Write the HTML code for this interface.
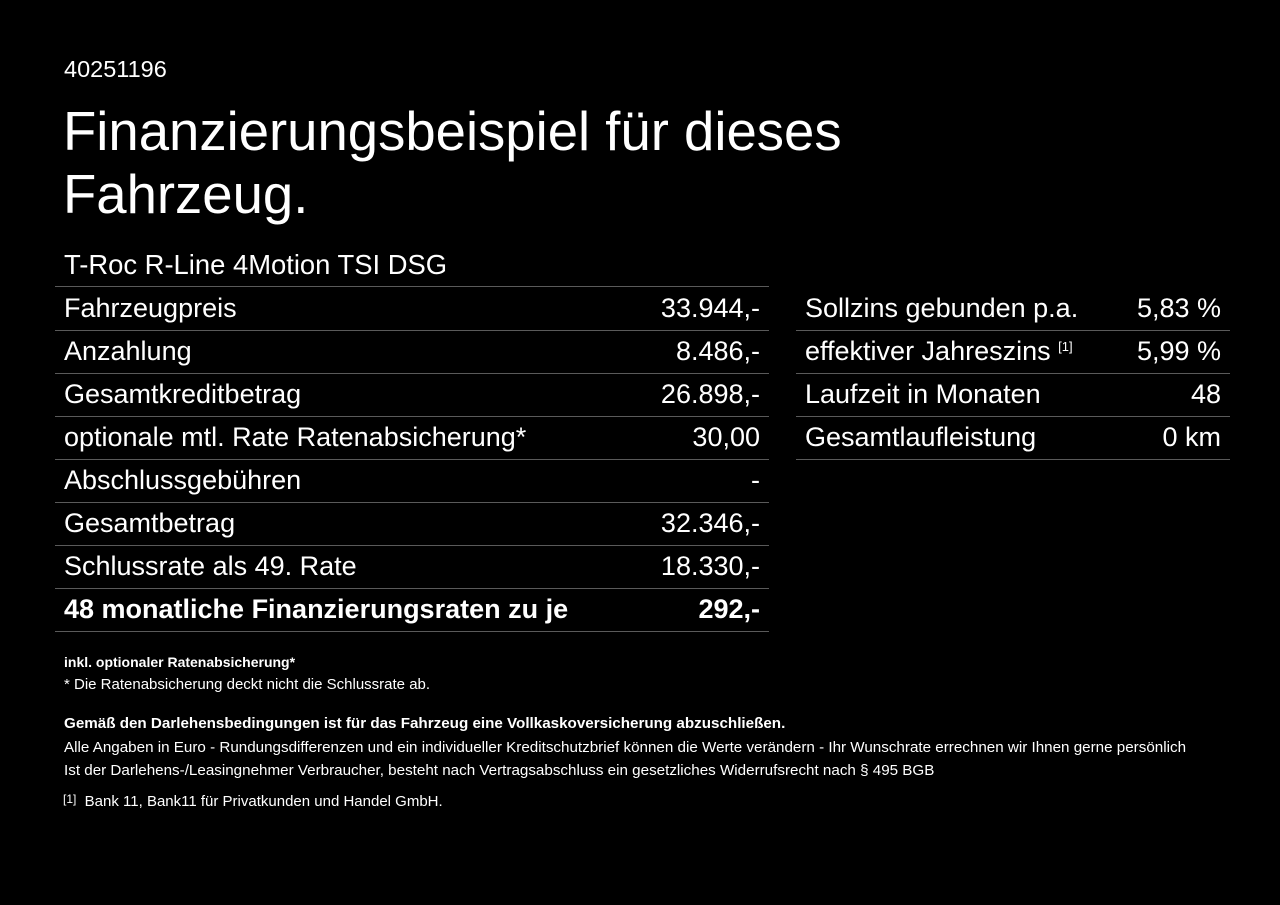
<!DOCTYPE html>
<html><head><meta charset="utf-8"><style>
body{margin:0;background:#000;width:1280px;height:905px;overflow:hidden;font-family:"Liberation Sans",Arial,sans-serif;color:#fff;position:relative}
.a{position:absolute;white-space:nowrap}
.row{position:absolute;height:43px;border-bottom:1px solid #5a5a5a;font-size:27px;line-height:43px}
.row .l{position:absolute;left:9px}
.row .r{position:absolute;right:9px}
.s{font-size:15.2px}
sup{line-height:0}
</style></head><body>
<div class="a" style="left:64px;top:56px;font-size:23.5px">40251196</div>
<div class="a" style="left:63px;top:100px;font-size:54.5px;line-height:63px">Finanzierungsbeispiel für dieses<br>Fahrzeug.</div>
<div class="a" style="left:64px;top:249px;font-size:27.4px">T-Roc R-Line 4Motion TSI DSG</div>
<div style="position:absolute;left:55px;top:286px;width:714px;border-top:1px solid #5a5a5a"></div>
<div class="row" style="left:55px;width:714px;top:287px"><span class="l">Fahrzeugpreis</span><span class="r">33.944,-</span></div>
<div class="row" style="left:55px;width:714px;top:330px"><span class="l">Anzahlung</span><span class="r">8.486,-</span></div>
<div class="row" style="left:55px;width:714px;top:373px"><span class="l">Gesamtkreditbetrag</span><span class="r">26.898,-</span></div>
<div class="row" style="left:55px;width:714px;top:416px"><span class="l">optionale mtl. Rate Ratenabsicherung*</span><span class="r">30,00</span></div>
<div class="row" style="left:55px;width:714px;top:459px"><span class="l">Abschlussgebühren</span><span class="r">-</span></div>
<div class="row" style="left:55px;width:714px;top:502px"><span class="l">Gesamtbetrag</span><span class="r">32.346,-</span></div>
<div class="row" style="left:55px;width:714px;top:545px"><span class="l">Schlussrate als 49. Rate</span><span class="r">18.330,-</span></div>
<div class="row" style="left:55px;width:714px;top:588px;font-weight:bold"><span class="l">48 monatliche Finanzierungsraten zu je</span><span class="r">292,-</span></div>
<div class="row" style="left:796px;width:434px;top:287px"><span class="l">Sollzins gebunden p.a.</span><span class="r">5,83 %</span></div>
<div class="row" style="left:796px;width:434px;top:330px"><span class="l">effektiver Jahreszins <sup style="font-size:13px;vertical-align:9px">[1]</sup></span><span class="r">5,99 %</span></div>
<div class="row" style="left:796px;width:434px;top:373px"><span class="l">Laufzeit in Monaten</span><span class="r">48</span></div>
<div class="row" style="left:796px;width:434px;top:416px"><span class="l">Gesamtlaufleistung</span><span class="r">0 km</span></div>
<div class="a s" style="left:64px;top:654px;font-weight:bold;font-size:14px">inkl. optionaler Ratenabsicherung*</div>
<div class="a s" style="left:64px;top:676px;font-size:15px">* Die Ratenabsicherung deckt nicht die Schlussrate ab.</div>
<div class="a s" style="left:64px;top:715px;font-weight:bold;font-size:15.2px">Gemäß den Darlehensbedingungen ist für das Fahrzeug eine Vollkaskoversicherung abzuschließen.</div>
<div class="a s" style="left:64px;top:739px">Alle Angaben in Euro - Rundungsdifferenzen und ein individueller Kreditschutzbrief können die Werte verändern - Ihr Wunschrate errechnen wir Ihnen gerne persönlich</div>
<div class="a s" style="left:64px;top:762px">Ist der Darlehens-/Leasingnehmer Verbraucher, besteht nach Vertragsabschluss ein gesetzliches Widerrufsrecht nach § 495 BGB</div>
<div class="a s" style="left:63px;top:792px;font-size:15px"><span style="font-size:12px;vertical-align:3px">[1]</span>&nbsp; Bank 11, Bank11 für Privatkunden und Handel GmbH.</div>
</body></html>
